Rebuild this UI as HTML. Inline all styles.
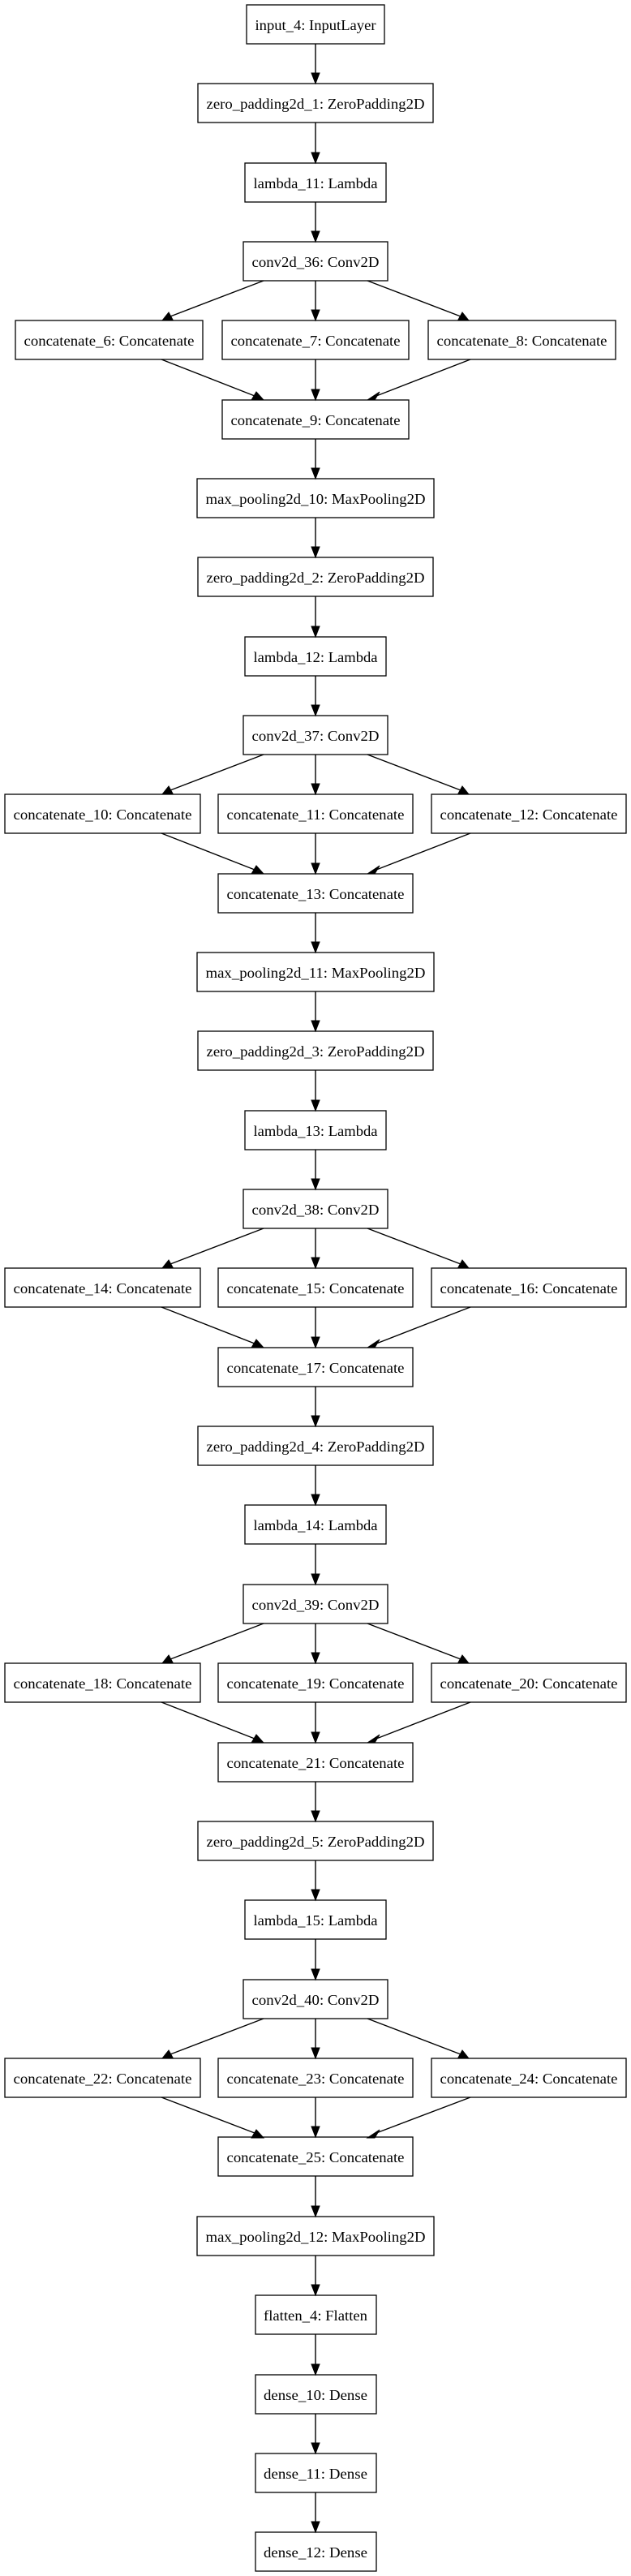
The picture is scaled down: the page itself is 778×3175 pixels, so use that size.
<!DOCTYPE html>
<html><head><meta charset="utf-8"><style>
html,body{margin:0;padding:0;background:#fff;}
svg{display:block;}
text{font-family:"Liberation Serif",serif;font-size:18px;fill:#000;}
</style></head><body>
<svg width="778" height="3175" viewBox="0 0 778 3175" xmlns="http://www.w3.org/2000/svg">
<defs>
<marker id="a" markerUnits="userSpaceOnUse" markerWidth="12" markerHeight="16" viewBox="0 0 12 16" refX="6" refY="15" orient="auto-start-reverse">
</marker>
</defs>
<g id="boxes" fill="#fff" stroke="#000" stroke-width="1.3">
<rect x="304" y="6" width="170" height="48"/>
<rect x="244" y="103" width="290" height="48"/>
<rect x="302" y="201" width="174" height="48"/>
<rect x="300" y="298" width="178" height="48"/>
<rect x="19" y="395" width="231" height="48"/><rect x="274" y="395" width="230" height="48"/><rect x="528" y="395" width="231" height="48"/>
<rect x="274" y="493" width="230" height="48"/>
<rect x="243" y="590" width="292" height="48"/>
<rect x="244" y="687" width="290" height="48"/>
<rect x="302" y="785" width="174" height="48"/>
<rect x="300" y="882" width="178" height="48"/>
<rect x="6" y="979" width="241" height="48"/><rect x="269" y="979" width="240" height="48"/><rect x="532" y="979" width="240" height="48"/>
<rect x="269" y="1077" width="240" height="48"/>
<rect x="243" y="1174" width="292" height="48"/>
<rect x="244" y="1271" width="290" height="48"/>
<rect x="302" y="1369" width="174" height="48"/>
<rect x="300" y="1466" width="178" height="48"/>
<rect x="6" y="1563" width="241" height="48"/><rect x="269" y="1563" width="240" height="48"/><rect x="532" y="1563" width="240" height="48"/>
<rect x="269" y="1661" width="240" height="48"/>
<rect x="244" y="1758" width="290" height="48"/>
<rect x="302" y="1855" width="174" height="48"/>
<rect x="300" y="1953" width="178" height="48"/>
<rect x="6" y="2050" width="241" height="48"/><rect x="269" y="2050" width="240" height="48"/><rect x="532" y="2050" width="240" height="48"/>
<rect x="269" y="2148" width="240" height="48"/>
<rect x="244" y="2245" width="290" height="48"/>
<rect x="302" y="2342" width="174" height="48"/>
<rect x="300" y="2440" width="178" height="48"/>
<rect x="6" y="2537" width="241" height="48"/><rect x="269" y="2537" width="240" height="48"/><rect x="532" y="2537" width="240" height="48"/>
<rect x="269" y="2634" width="240" height="48"/>
<rect x="243" y="2732" width="292" height="48"/>
<rect x="315" y="2829" width="149" height="48"/>
<rect x="315" y="2927" width="149" height="48"/>
<rect x="315" y="3024" width="149" height="48"/>
<rect x="315" y="3121" width="149" height="48"/>
</g>
<g text-anchor="middle" lengthAdjust="spacingAndGlyphs">
<text x="389" y="37" textLength="149" lengthAdjust="spacingAndGlyphs">input_4: InputLayer</text>
<text x="389" y="134" textLength="269" lengthAdjust="spacingAndGlyphs">zero_padding2d_1: ZeroPadding2D</text>
<text x="389" y="232" textLength="153" lengthAdjust="spacingAndGlyphs">lambda_11: Lambda</text>
<text x="389" y="329" textLength="157" lengthAdjust="spacingAndGlyphs">conv2d_36: Conv2D</text>
<text x="134.5" y="426" textLength="210" lengthAdjust="spacingAndGlyphs">concatenate_6: Concatenate</text>
<text x="389" y="426" textLength="209" lengthAdjust="spacingAndGlyphs">concatenate_7: Concatenate</text>
<text x="643.5" y="426" textLength="210" lengthAdjust="spacingAndGlyphs">concatenate_8: Concatenate</text>
<text x="389" y="524" textLength="209" lengthAdjust="spacingAndGlyphs">concatenate_9: Concatenate</text>
<text x="389" y="621" textLength="271" lengthAdjust="spacingAndGlyphs">max_pooling2d_10: MaxPooling2D</text>
<text x="389" y="718" textLength="269" lengthAdjust="spacingAndGlyphs">zero_padding2d_2: ZeroPadding2D</text>
<text x="389" y="816" textLength="153" lengthAdjust="spacingAndGlyphs">lambda_12: Lambda</text>
<text x="389" y="913" textLength="157" lengthAdjust="spacingAndGlyphs">conv2d_37: Conv2D</text>
<text x="126.5" y="1010" textLength="220" lengthAdjust="spacingAndGlyphs">concatenate_10: Concatenate</text>
<text x="389" y="1010" textLength="219" lengthAdjust="spacingAndGlyphs">concatenate_11: Concatenate</text>
<text x="652" y="1010" textLength="219" lengthAdjust="spacingAndGlyphs">concatenate_12: Concatenate</text>
<text x="389" y="1108" textLength="219" lengthAdjust="spacingAndGlyphs">concatenate_13: Concatenate</text>
<text x="389" y="1205" textLength="271" lengthAdjust="spacingAndGlyphs">max_pooling2d_11: MaxPooling2D</text>
<text x="389" y="1302" textLength="269" lengthAdjust="spacingAndGlyphs">zero_padding2d_3: ZeroPadding2D</text>
<text x="389" y="1400" textLength="153" lengthAdjust="spacingAndGlyphs">lambda_13: Lambda</text>
<text x="389" y="1497" textLength="157" lengthAdjust="spacingAndGlyphs">conv2d_38: Conv2D</text>
<text x="126.5" y="1594" textLength="220" lengthAdjust="spacingAndGlyphs">concatenate_14: Concatenate</text>
<text x="389" y="1594" textLength="219" lengthAdjust="spacingAndGlyphs">concatenate_15: Concatenate</text>
<text x="652" y="1594" textLength="219" lengthAdjust="spacingAndGlyphs">concatenate_16: Concatenate</text>
<text x="389" y="1692" textLength="219" lengthAdjust="spacingAndGlyphs">concatenate_17: Concatenate</text>
<text x="389" y="1789" textLength="269" lengthAdjust="spacingAndGlyphs">zero_padding2d_4: ZeroPadding2D</text>
<text x="389" y="1886" textLength="153" lengthAdjust="spacingAndGlyphs">lambda_14: Lambda</text>
<text x="389" y="1984" textLength="157" lengthAdjust="spacingAndGlyphs">conv2d_39: Conv2D</text>
<text x="126.5" y="2081" textLength="220" lengthAdjust="spacingAndGlyphs">concatenate_18: Concatenate</text>
<text x="389" y="2081" textLength="219" lengthAdjust="spacingAndGlyphs">concatenate_19: Concatenate</text>
<text x="652" y="2081" textLength="219" lengthAdjust="spacingAndGlyphs">concatenate_20: Concatenate</text>
<text x="389" y="2179" textLength="219" lengthAdjust="spacingAndGlyphs">concatenate_21: Concatenate</text>
<text x="389" y="2276" textLength="269" lengthAdjust="spacingAndGlyphs">zero_padding2d_5: ZeroPadding2D</text>
<text x="389" y="2373" textLength="153" lengthAdjust="spacingAndGlyphs">lambda_15: Lambda</text>
<text x="389" y="2471" textLength="157" lengthAdjust="spacingAndGlyphs">conv2d_40: Conv2D</text>
<text x="126.5" y="2568" textLength="220" lengthAdjust="spacingAndGlyphs">concatenate_22: Concatenate</text>
<text x="389" y="2568" textLength="219" lengthAdjust="spacingAndGlyphs">concatenate_23: Concatenate</text>
<text x="652" y="2568" textLength="219" lengthAdjust="spacingAndGlyphs">concatenate_24: Concatenate</text>
<text x="389" y="2665" textLength="219" lengthAdjust="spacingAndGlyphs">concatenate_25: Concatenate</text>
<text x="389" y="2763" textLength="271" lengthAdjust="spacingAndGlyphs">max_pooling2d_12: MaxPooling2D</text>
<text x="389" y="2860" textLength="128" lengthAdjust="spacingAndGlyphs">flatten_4: Flatten</text>
<text x="389" y="2958" textLength="128" lengthAdjust="spacingAndGlyphs">dense_10: Dense</text>
<text x="389" y="3055" textLength="128" lengthAdjust="spacingAndGlyphs">dense_11: Dense</text>
<text x="389" y="3152" textLength="128" lengthAdjust="spacingAndGlyphs">dense_12: Dense</text>
</g>
<g stroke="#000" stroke-width="1.4" fill="none">
<path d="M389 54V92 M389 151V190 M389 249V287 M389 346V384 M389 443V482 M389 541V579 M389 638V676 M389 735V774 M389 833V871 M389 930V968 M389 1027V1066 M389 1125V1163 M389 1222V1260 M389 1319V1358 M389 1417V1455 M389 1514V1552 M389 1611V1650 M389 1709V1747 M389 1806V1844 M389 1903V1942 M389 2001V2039 M389 2098V2137 M389 2196V2234 M389 2293V2331 M389 2390V2429 M389 2488V2526 M389 2585V2623 M389 2682V2721 M389 2780V2818 M389 2877V2916 M389 2975V3013 M389 3072V3110"/>
<path d="M325 346L210 390 M453 346L568 390 M199 443L314 488 M580 443L464 488"/>
<path d="M325 930L210 974 M453 930L568 974 M199 1027L314 1072 M580 1027L464 1072"/>
<path d="M325 1514L210 1558 M453 1514L568 1558 M199 1611L314 1656 M580 1611L464 1656"/>
<path d="M325 2001L210 2045 M453 2001L568 2045 M199 2098L314 2143 M580 2098L464 2143"/>
<path d="M325 2488L210 2532 M453 2488L568 2532 M199 2585L314 2629 M580 2585L464 2629"/>
</g>
<g fill="#000" stroke="#000" stroke-width="1">
<path d="M384 90L394 90L389 103Z M384 188L394 188L389 201Z M384 285L394 285L389 298Z M384 382L394 382L389 395Z M384 480L394 480L389 493Z M384 577L394 577L389 590Z M384 674L394 674L389 687Z M384 772L394 772L389 785Z M384 869L394 869L389 882Z M384 966L394 966L389 979Z M384 1064L394 1064L389 1077Z M384 1161L394 1161L389 1174Z M384 1258L394 1258L389 1271Z M384 1356L394 1356L389 1369Z M384 1453L394 1453L389 1466Z M384 1550L394 1550L389 1563Z M384 1648L394 1648L389 1661Z M384 1745L394 1745L389 1758Z M384 1842L394 1842L389 1855Z M384 1940L394 1940L389 1953Z M384 2037L394 2037L389 2050Z M384 2135L394 2135L389 2148Z M384 2232L394 2232L389 2245Z M384 2329L394 2329L389 2342Z M384 2427L394 2427L389 2440Z M384 2524L394 2524L389 2537Z M384 2621L394 2621L389 2634Z M384 2719L394 2719L389 2732Z M384 2816L394 2816L389 2829Z M384 2914L394 2914L389 2927Z M384 3011L394 3011L389 3024Z M384 3108L394 3108L389 3121Z"/>
<g id="fan">
<path d="M208 385L213 394L200 395Z M570 385L565 394L578 395Z M310 493L316 483L325 493Z M468 483L462 493L453 493Z"/>
</g>
<use href="#fan" transform="translate(0,584)"/>
<use href="#fan" transform="translate(0,1168)"/>
<use href="#fan" transform="translate(0,1655)"/>
<use href="#fan" transform="translate(0,2142)"/>
</g>
</svg>
</body></html>
